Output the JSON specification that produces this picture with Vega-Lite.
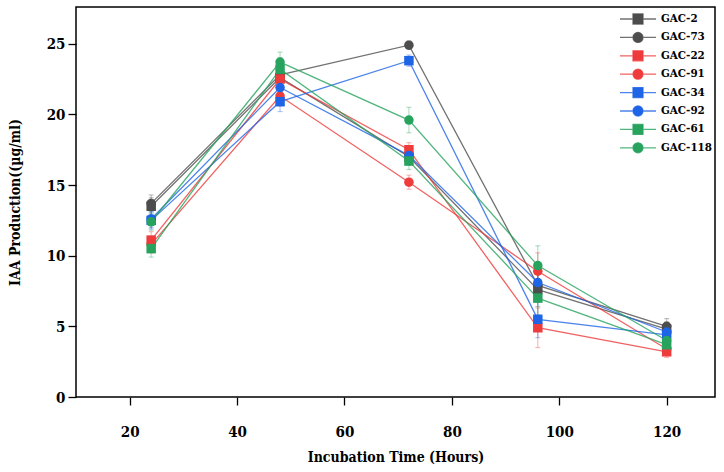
{
  "$schema": "https://vega.github.io/schema/vega-lite/v6.json",
  "width": 639,
  "height": 390,
  "autosize": {"type": "none"},
  "padding": {"left": 76, "top": 7, "right": 9, "bottom": 75},
  "background": "white",
  "config": {
    "view": {"stroke": "black", "strokeWidth": 1.5},
    "font": "DejaVu Serif Condensed",
    "axis": {
      "domain": false,
      "grid": false,
      "tickColor": "black",
      "tickWidth": 1.3,
      "tickSize": 8,
      "labelFont": "DejaVu Serif Condensed",
      "labelFontWeight": "bold",
      "labelFontSize": 15,
      "labelColor": "black",
      "titleFont": "DejaVu Serif Condensed",
      "titleFontWeight": "bold",
      "titleFontSize": 14,
      "titleColor": "black"
    },
    "legend": {
      "labelFont": "DejaVu Serif Condensed",
      "labelFontWeight": "bold",
      "labelFontSize": 11.5,
      "labelColor": "black"
    }
  },
  "data": {
    "values": [
      {"series": "GAC-2", "time": 24, "value": 13.5, "err": 0.6},
      {"series": "GAC-2", "time": 48, "value": 22.6, "err": 0.7},
      {"series": "GAC-2", "time": 72, "value": 17.0, "err": 0.6},
      {"series": "GAC-2", "time": 96, "value": 7.6, "err": 1.2},
      {"series": "GAC-2", "time": 120, "value": 4.8, "err": 0.5},
      {"series": "GAC-73", "time": 24, "value": 13.7, "err": 0.6},
      {"series": "GAC-73", "time": 48, "value": 22.8, "err": 0.7},
      {"series": "GAC-73", "time": 72, "value": 24.9, "err": 0.3},
      {"series": "GAC-73", "time": 96, "value": 7.9, "err": 1.2},
      {"series": "GAC-73", "time": 120, "value": 5.0, "err": 0.55},
      {"series": "GAC-22", "time": 24, "value": 11.1, "err": 0.6},
      {"series": "GAC-22", "time": 48, "value": 22.5, "err": 0.7},
      {"series": "GAC-22", "time": 72, "value": 17.5, "err": 0.5},
      {"series": "GAC-22", "time": 96, "value": 4.9, "err": 1.4},
      {"series": "GAC-22", "time": 120, "value": 3.2, "err": 0.4},
      {"series": "GAC-91", "time": 24, "value": 10.8, "err": 0.6},
      {"series": "GAC-91", "time": 48, "value": 21.3, "err": 0.7},
      {"series": "GAC-91", "time": 72, "value": 15.2, "err": 0.5},
      {"series": "GAC-91", "time": 96, "value": 8.9, "err": 1.3},
      {"series": "GAC-91", "time": 120, "value": 3.4, "err": 0.4},
      {"series": "GAC-34", "time": 24, "value": 12.5, "err": 0.6},
      {"series": "GAC-34", "time": 48, "value": 20.9, "err": 0.7},
      {"series": "GAC-34", "time": 72, "value": 23.8, "err": 0.4},
      {"series": "GAC-34", "time": 96, "value": 5.5, "err": 1.3},
      {"series": "GAC-34", "time": 120, "value": 4.4, "err": 0.4},
      {"series": "GAC-92", "time": 24, "value": 12.6, "err": 0.6},
      {"series": "GAC-92", "time": 48, "value": 21.9, "err": 0.7},
      {"series": "GAC-92", "time": 72, "value": 17.1, "err": 0.6},
      {"series": "GAC-92", "time": 96, "value": 8.1, "err": 1.2},
      {"series": "GAC-92", "time": 120, "value": 4.6, "err": 0.4},
      {"series": "GAC-61", "time": 24, "value": 10.5, "err": 0.6},
      {"series": "GAC-61", "time": 48, "value": 23.2, "err": 0.8},
      {"series": "GAC-61", "time": 72, "value": 16.7, "err": 0.6},
      {"series": "GAC-61", "time": 96, "value": 7.0, "err": 1.2},
      {"series": "GAC-61", "time": 120, "value": 3.7, "err": 0.4},
      {"series": "GAC-118", "time": 24, "value": 12.4, "err": 0.6},
      {"series": "GAC-118", "time": 48, "value": 23.7, "err": 0.7},
      {"series": "GAC-118", "time": 72, "value": 19.6, "err": 0.9},
      {"series": "GAC-118", "time": 96, "value": 9.3, "err": 1.4},
      {"series": "GAC-118", "time": 120, "value": 4.0, "err": 0.4}
    ]
  },
  "encoding": {
    "x": {
      "field": "time",
      "type": "quantitative",
      "title": "Incubation Time (Hours)",
      "scale": {"domain": [10, 129], "nice": false, "zero": false},
      "axis": {"values": [20, 40, 60, 80, 100, 120], "labelPadding": 19, "titlePadding": 11}
    },
    "y": {
      "field": "value",
      "type": "quantitative",
      "title": "IAA Production((µg/ml)",
      "scale": {"domain": [0, 27.6], "nice": false},
      "axis": {"values": [0, 5, 10, 15, 20, 25], "labelPadding": 3, "titlePadding": 24}
    }
  },
  "layer": [
    {
      "mark": {"type": "errorbar", "ticks": true, "opacity": 0.35, "thickness": 1.2},
      "encoding": {
        "yError": {"field": "err"},
        "color": {
          "field": "series",
          "type": "nominal",
          "legend": null,
          "scale": {
            "domain": ["GAC-2", "GAC-73", "GAC-22", "GAC-91", "GAC-34", "GAC-92", "GAC-61", "GAC-118"],
            "range": ["#4d4d4d", "#4d4d4d", "#ee3b3b", "#ee3b3b", "#1e64e6", "#1e64e6", "#27a35e", "#27a35e"]
          }
        }
      }
    },
    {
      "mark": {"type": "line", "strokeWidth": 1.3, "opacity": 0.8},
      "encoding": {
        "stroke": {
          "field": "series",
          "type": "nominal",
          "sort": ["GAC-2", "GAC-73", "GAC-22", "GAC-91", "GAC-34", "GAC-92", "GAC-61", "GAC-118"],
          "scale": {
            "range": ["#4d4d4d", "#4d4d4d", "#ee3b3b", "#ee3b3b", "#1e64e6", "#1e64e6", "#27a35e", "#27a35e"]
          },
          "legend": {
            "title": null,
            "orient": "none",
            "legendX": 556,
            "legendY": 6,
            "padding": 0,
            "symbolType": "M-3.6,0H3.6",
            "symbolSize": 100,
            "symbolStrokeWidth": 1.3,
            "symbolOpacity": 1,
            "labelOffset": 17,
            "rowPadding": 2.4,
            "encode": {
              "symbols": {
                "update": {
                  "shape": {"signal": "indexof(['GAC-2','GAC-22','GAC-34','GAC-61'], datum.value) >= 0 ? 'M-3.6,0H3.6M-1,-1H1V1H-1Z' : 'M-3.6,0H-1A1,1 0 1,1 1,0A1,1 0 1,1 -1,0M1,0H3.6'"},
                  "fill": {"scale": "stroke", "field": "value"},
                  "strokeOpacity": {"value": 0.8}
                }
              }
            }
          }
        }
      }
    },
    {
      "mark": {"type": "point", "filled": true, "size": 90, "opacity": 1},
      "encoding": {
        "fill": {
          "field": "series",
          "type": "nominal",
          "legend": null,
          "scale": {
            "domain": ["GAC-2", "GAC-73", "GAC-22", "GAC-91", "GAC-34", "GAC-92", "GAC-61", "GAC-118"],
            "range": ["#4d4d4d", "#4d4d4d", "#ee3b3b", "#ee3b3b", "#1e64e6", "#1e64e6", "#27a35e", "#27a35e"]
          }
        },
        "shape": {
          "field": "series",
          "type": "nominal",
          "legend": null,
          "scale": {
            "domain": ["GAC-2", "GAC-73", "GAC-22", "GAC-91", "GAC-34", "GAC-92", "GAC-61", "GAC-118"],
            "range": ["square", "circle", "square", "circle", "square", "circle", "square", "circle"]
          }
        }
      }
    }
  ]
}
